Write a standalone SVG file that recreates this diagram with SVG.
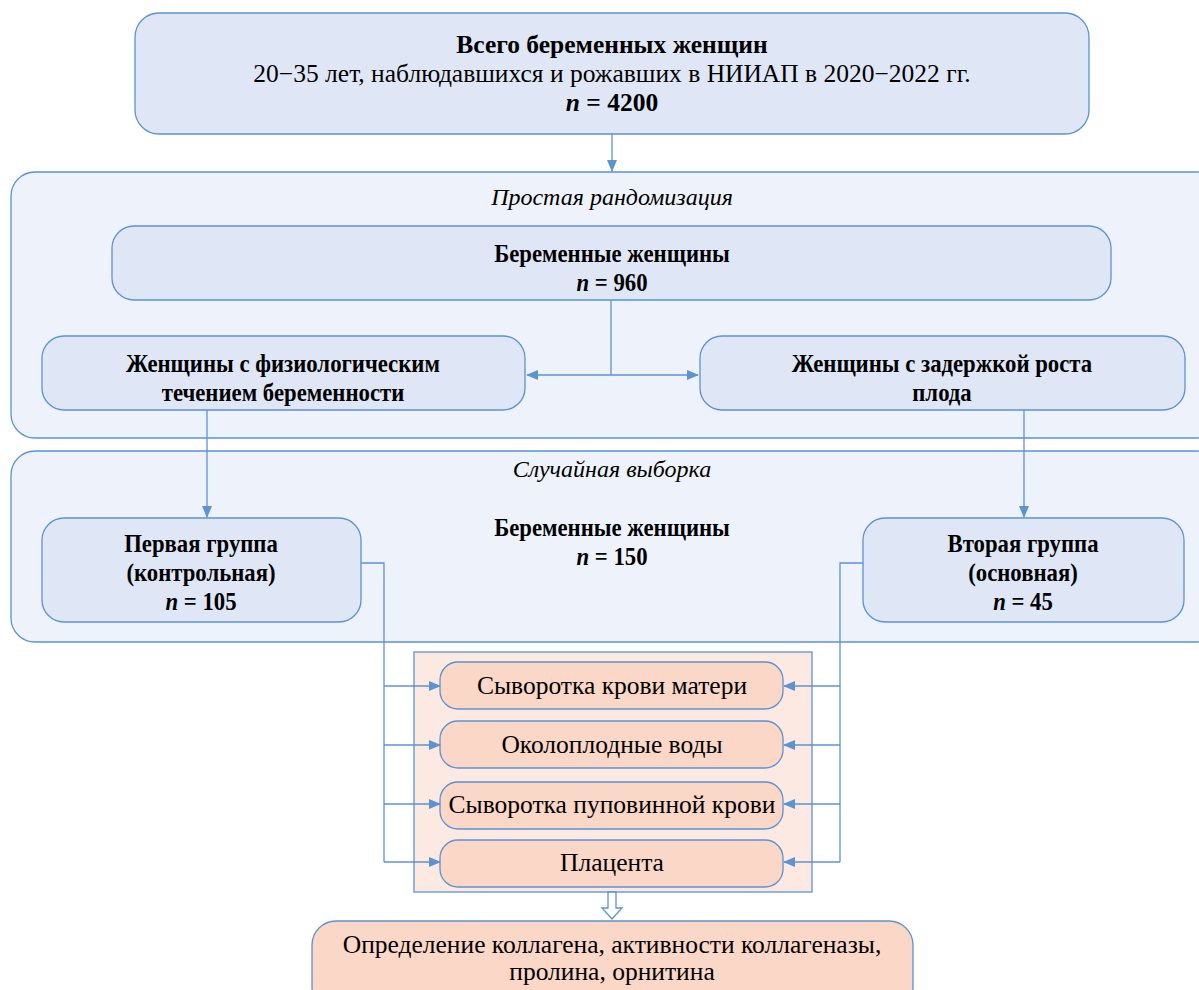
<svg xmlns="http://www.w3.org/2000/svg" width="1199" height="990" viewBox="0 0 1199 990" font-family="'Liberation Serif', serif">
<defs>
<style>
.cont{fill:#eef3fb;stroke:#5b93d3;stroke-width:1.3}
.box{fill:#dfe7f6;stroke:#5b93d3;stroke-width:1.3}
.pc{fill:#fce9e2;stroke:#5b93d3;stroke-width:1.3}
.pb{fill:#fbd7c7;stroke:#5b93d3;stroke-width:1.3}
.ln{fill:none;stroke:#5b93d3;stroke-width:1.3}
text{font-family:'Liberation Serif', serif;font-size:25.5px;fill:#000;text-anchor:middle}
.b{font-weight:bold}
.i{font-style:italic;font-size:24px}
tspan.i{font-size:inherit}
.c{font-size:25px}
</style>
<marker id="ar" markerWidth="12" markerHeight="10" refX="11" refY="5" orient="auto" markerUnits="userSpaceOnUse">
<path d="M0,0 L12,5 L0,10 Z" fill="#5b93d3"/>
</marker>
</defs>
<rect width="1199" height="990" fill="#fff"/>

<g id="n-top">
<rect class="box" x="135" y="13" width="954" height="121" rx="24"/>
<text class="b" x="612" y="53">Всего беременных женщин</text>
<text x="612" y="82">20−35 лет, наблюдавшихся и рожавших в НИИАП в 2020−2022 гг.</text>
<text class="b" x="612" y="111"><tspan class="i">n</tspan> = 4200</text>
</g>

<g id="c-random">
<rect class="cont" x="11" y="172" width="1210" height="266" rx="24"/>
<text class="i" x="612" y="205">Простая рандомизация</text>
</g>

<g id="n-960">
<rect class="box" x="112" y="226" width="999" height="74" rx="22"/>
<text class="b c" transform="translate(612,0) scale(0.91,1)" x="0" y="262">Беременные женщины</text>
<text class="b c" transform="translate(612,0) scale(0.91,1)" x="0" y="291"><tspan class="i">n</tspan> = 960</text>
</g>

<g id="n-phys">
<rect class="box" x="42" y="336" width="483" height="74" rx="22"/>
<text class="b c" transform="translate(283,0) scale(0.91,1)" x="0" y="372">Женщины с физиологическим</text>
<text class="b c" transform="translate(283,0) scale(0.91,1)" x="0" y="401">течением беременности</text>
</g>

<g id="n-fgr">
<rect class="box" x="700" y="336" width="485" height="74" rx="22"/>
<text class="b c" transform="translate(942,0) scale(0.91,1)" x="0" y="372">Женщины с задержкой роста</text>
<text class="b c" transform="translate(942,0) scale(0.91,1)" x="0" y="401">плода</text>
</g>

<g id="c-sample">
<rect class="cont" x="11" y="451" width="1210" height="191" rx="24"/>
<text class="i" x="612" y="477">Случайная выборка</text>
<text class="b c" transform="translate(612,0) scale(0.91,1)" x="0" y="536">Беременные женщины</text>
<text class="b c" transform="translate(612,0) scale(0.91,1)" x="0" y="565"><tspan class="i">n</tspan> = 150</text>
</g>

<g id="n-g1">
<rect class="box" x="42" y="518" width="319" height="104" rx="22"/>
<text class="b c" transform="translate(201,0) scale(0.91,1)" x="0" y="552">Первая группа</text>
<text class="b c" transform="translate(201,0) scale(0.91,1)" x="0" y="581">(контрольная)</text>
<text class="b c" transform="translate(201,0) scale(0.91,1)" x="0" y="610"><tspan class="i">n</tspan> = 105</text>
</g>

<g id="n-g2">
<rect class="box" x="863" y="518" width="321" height="104" rx="22"/>
<text class="b c" transform="translate(1023,0) scale(0.91,1)" x="0" y="552">Вторая группа</text>
<text class="b c" transform="translate(1023,0) scale(0.91,1)" x="0" y="581">(основная)</text>
<text class="b c" transform="translate(1023,0) scale(0.91,1)" x="0" y="610"><tspan class="i">n</tspan> = 45</text>
</g>

<g id="c-samples">
<rect class="pc" x="414" y="652" width="398" height="240"/>
</g>

<g id="n-s1">
<rect class="pb" x="440" y="662" width="343" height="47" rx="18"/>
<text x="612" y="694">Сыворотка крови матери</text>
</g>
<g id="n-s2">
<rect class="pb" x="440" y="721" width="343" height="47" rx="18"/>
<text x="612" y="753">Околоплодные воды</text>
</g>
<g id="n-s3">
<rect class="pb" x="440" y="782" width="343" height="47" rx="18"/>
<text x="612" y="813">Сыворотка пуповинной крови</text>
</g>
<g id="n-s4">
<rect class="pb" x="440" y="840" width="343" height="47" rx="18"/>
<text x="612" y="871">Плацента</text>
</g>

<g id="n-result">
<rect class="pb" x="312" y="921" width="601" height="90" rx="24"/>
<text x="612" y="953">Определение коллагена, активности коллагеназы,</text>
<text x="612" y="980">пролина, орнитина</text>
</g>

<g id="connectors">
<line class="ln" x1="612" y1="134" x2="612" y2="171" marker-end="url(#ar)"/>
<polyline class="ln" points="611,300 611,375"/>
<line class="ln" x1="611" y1="375" x2="527" y2="375" marker-end="url(#ar)"/>
<line class="ln" x1="611" y1="375" x2="698" y2="375" marker-end="url(#ar)"/>
<line class="ln" x1="207" y1="410" x2="207" y2="517" marker-end="url(#ar)"/>
<line class="ln" x1="1024" y1="410" x2="1024" y2="517" marker-end="url(#ar)"/>
<polyline class="ln" points="361,563 384,563 384,862"/>
<line class="ln" x1="384" y1="686" x2="440" y2="686" marker-end="url(#ar)"/>
<line class="ln" x1="384" y1="745" x2="440" y2="745" marker-end="url(#ar)"/>
<line class="ln" x1="384" y1="804" x2="440" y2="804" marker-end="url(#ar)"/>
<line class="ln" x1="384" y1="862" x2="440" y2="862" marker-end="url(#ar)"/>
<polyline class="ln" points="863,563 840,563 840,862"/>
<line class="ln" x1="840" y1="686" x2="784" y2="686" marker-end="url(#ar)"/>
<line class="ln" x1="840" y1="745" x2="784" y2="745" marker-end="url(#ar)"/>
<line class="ln" x1="840" y1="804" x2="784" y2="804" marker-end="url(#ar)"/>
<line class="ln" x1="840" y1="862" x2="784" y2="862" marker-end="url(#ar)"/>
<path d="M608,892 L616,892 L616,908 L622,908 L612,919 L602,908 L608,908 Z" fill="#fff" stroke="#5b93d3" stroke-width="1.3"/>
</g>
</svg>
